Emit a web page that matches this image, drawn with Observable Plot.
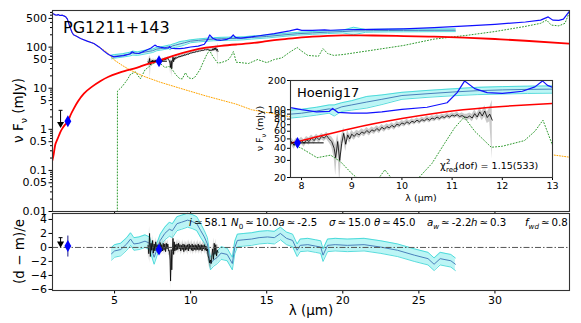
<!DOCTYPE html>
<html><head><meta charset="utf-8">
<script src="https://cdn.jsdelivr.net/npm/d3@7"></script>
<script src="https://cdn.jsdelivr.net/npm/@observablehq/plot@0.6"></script>
<style>
body{margin:0;background:#fff;}
#wrap{position:relative;width:581px;height:323px;overflow:hidden;background:#fff;}
#wrap svg{position:absolute;overflow:visible;}
</style></head><body><div id="wrap"></div>
<script>
// ---------------- data ----------------
// total model (blue)
const blueLam = [0.92,1.0,1.1,1.2,1.3,1.4,1.56,1.7,1.78,1.9,2.05,2.2,2.3,2.5,2.76,3.2,3.64,4.0,4.3,4.6,4.95,5.3,5.6,6.0,6.16,6.3,6.6,7.0,7.4,7.65,7.78,8.0,8.3,8.55,8.62,8.72,9.0,9.3,9.6,10.0,10.5,10.9,11.1,11.25,11.45,11.7,12.0,12.4,12.65,12.8,12.9,13.0,13.3,14.0,15.5,16.5,17.0,17.3,18.0,18.8,19.2,20,22,24,26,28.2,30,32,33,33.5,33.8,34.2,34.5,34.9];
const blueVal = [660,640,610,600,620,590,600,570,550,480,320,230,200,185,163,140,123,100,80,66,58,60,62,68,77,72,70,82,95,112,105,100,95,96,103,94,92,92,95,101,106,118,150,198,165,150,147,155,172,198,178,170,165,178,214,250,275,255,255,262,258,265,270,280,300,330,360,410,455,545,455,450,480,750];
// stellar / accretion disk component (orange dotted)
const orangeLam = [0.92,1.0,1.1,1.2,1.3,1.4,1.56,1.7,1.78,1.9,2.05,2.2,2.3,2.5,2.76,3.2,3.64,4.0,4.5,5.0,5.5,6.0,6.5,7.0,8.0,9.5,11,13,14,16,18,20,22,25,28,31,34.9];
const orangeVal = [660,640,610,600,620,590,600,570,550,480,320,230,200,185,163,140,123,100,75,48,36,28,23,19,14,9.5,6.5,4.1,3.0,2.2,1.6,1.15,0.88,0.62,0.45,0.33,0.21];
// fitted smooth component (red)
const redLam = [0.9,1.0,1.1,1.23,1.4,1.56,1.75,1.93,2.1,2.32,2.6,2.98,3.5,4.08,4.6,5.18,5.7,6.27,6.8,7.37,8.0,9.0,10,11,12,13,14,15,16,17,18,19,20,21,22,24,26,28,30,32,34.9];
const redVal = [0.17,0.25,0.42,0.56,0.8,1.04,1.3,1.57,2.2,3.2,4.8,7.4,10.8,15,19,23,26.5,30,35,41,48,64,81,97,108,116,125,140,155,168,180,188,193,194,192,186,180,170,158,143,122];
// star-forming component (green dotted)
const greenLam = [5.18,5.19,5.5,5.83,6.05,6.38,6.55,6.7,7.0,7.37,7.78,8.0,8.31,8.58,8.78,9.0,9.15,9.3,9.45,9.66,9.85,10.1,10.3,10.6,10.85,11.05,11.24,11.45,11.78,12.0,12.44,12.65,12.81,13.0,13.3,13.8,14.4,15.0,15.5,16.0,16.5,17.0,17.3,17.7,18.4,18.7,19.0,19.4,20,22,24,26,28.2,30,32,33,33.4,33.7,34.2,34.6,34.9];
const greenVal = [0.005,8.5,11,16,22,25,20,17,28,36,45,40,32,34,29,22,19,17,17,24,18,17,19,28,45,65,84,60,41,42,48,60,78,43,42,40,50,42,50,55,75,98,80,63,60,92,70,63,66,85,110,157,195,240,320,380,455,344,330,380,720];
// model band (cyan)
const bandLam = [4.8,5.0,5.5,6.0,6.2,6.5,7.0,7.5,7.78,8.0,8.3,8.55,8.65,8.8,9.0,9.3,9.6,10.0,10.5,11.0,11.5,12.0,12.5,13.0,13.5,14,15,16,17,18,19,20,20.7,21.5,22,23,24,25,26,27.4];
const bandLo  = [52,54,57,61,64,63,68,74,82,84,88,92,86,96,99,104,113,128,134,139,143,145,147,148,151,157,167,181,196,205,214,222,200,230,232,235,236,237,238,239];
const bandMed = [58,60,63,68,72,70,76,82,90,92,97,102,100,107,112,120,128,140,146,152,157,160,162,163,166,172,182,197,212,222,232,240,248,250,252,254,255,256,257,258];
const bandHi  = [64,66,69,75,80,77,84,90,99,101,106,112,112,118,124,137,142,151,158,164,170,173,175,176,179,186,197,213,229,240,250,259,305,270,272,274,275,276,277,278];
// Spitzer spectrum (black) and its error (grey)
const specLam = [7.20,7.25,7.30,7.35,7.40,7.45,7.50,7.55,7.60,7.65,7.70,7.75,7.80,7.85,7.90,7.95,8.00,8.05,8.10,8.15,8.20,8.25,8.30,8.35,8.40,8.45,8.50,8.55,8.60,8.65,8.68,8.72,8.76,8.80,8.84,8.88,8.92,8.96,9.00,9.05,9.10,9.15,9.20,9.25,9.30,9.35,9.40,9.45,9.50,9.55,9.60,9.65,9.70,9.75,9.80,9.85,9.90,9.95,10.00,10.05,10.10,10.15,10.20,10.25,10.30,10.35,10.40,10.45,10.50,10.55,10.60,10.65,10.70,10.75,10.80,10.85,10.90,10.95,11.00,11.05,11.10,11.15,11.20,11.25,11.30,11.35,11.40,11.45,11.50,11.55,11.60,11.65,11.70,11.75,11.80];
const specVal = [44,40,53,37,46,42,48,41,47,43,48,44,47,43,47,45,48,45,49,47,51,48,52,49,53,51,54,50,47,40,32,47,30,45,57,44,55,50,56,53,57,55,59,57,61,58,62,60,64,61,66,63,67,65,69,66,71,69,73,71,75,72,76,74,78,75,79,77,81,78,82,80,84,81,85,83,87,84,88,86,89,85,87,84,83,86,82,91,84,95,86,97,83,90,78];
const specErr = [8,7,10,20,6,6,5,5,5,5,4.5,4.5,4,4,4,4,4,4,4,4,4,4,4,4,4,4,4.5,4.5,5.5,8,11,9,12,9,8,7,6,5,5,4.5,4.5,4.5,4.5,4.5,4.5,4.5,4.5,4.5,4.5,4.5,4.5,4.5,4.5,4.5,4.5,4.5,4.5,4.5,4.5,4.5,4.5,4.5,4.5,4.5,4.5,4.5,4.5,4.5,5,5,5,5,5,5,5,5,5,5,5,5,5.5,5.5,6,6,6.5,6.5,7,8,7,10,9,13,11,15,47];
// residuals: spectrum (black) and model band (cyan)
const resSpec = [0.3,-0.9,2.0,-1.3,0.6,-0.4,1.0,-0.8,0.5,-0.5,0.8,-0.3,0.4,-0.7,0.3,-0.2,0.7,-0.6,0.4,-0.5,0.6,-0.4,0.5,-0.6,0.6,-0.2,0.5,-0.5,-0.4,-1.8,-4.8,-0.3,-3.2,-0.6,1.3,-1.0,0.8,-0.5,0.4,-0.4,0.5,-0.3,0.6,-0.2,0.4,-0.5,0.3,-0.3,0.5,-0.6,0.4,-0.4,0.3,-0.3,0.4,-0.5,0.5,-0.2,0.3,-0.4,0.5,-0.5,0.3,-0.3,0.4,-0.4,0.3,-0.3,0.5,-0.4,0.3,-0.3,0.4,-0.5,0.3,-0.2,0.4,-0.4,0.2,-0.5,-0.2,-1.2,-1.6,-2.2,-1.8,-2.3,-1.2,-0.2,-1.7,0.6,-1.0,0.4,-1.2,-0.4,-0.7];
const resSpecErr = [1.0,1.0,1.0,1.0,0.9,0.7,0.7,0.7,0.6,0.6,0.6,0.6,0.6,0.6,0.6,0.6,0.6,0.6,0.6,0.6,0.6,0.6,0.6,0.6,0.6,0.6,0.6,0.6,0.7,1.0,1.2,1.0,1.2,1.0,0.9,0.8,0.7,0.6,0.6,0.6,0.6,0.6,0.6,0.6,0.6,0.6,0.6,0.6,0.6,0.6,0.6,0.6,0.6,0.6,0.6,0.6,0.6,0.6,0.6,0.6,0.6,0.6,0.6,0.6,0.6,0.6,0.6,0.6,0.6,0.6,0.6,0.6,0.6,0.6,0.6,0.6,0.6,0.6,0.6,0.6,0.7,0.7,0.8,0.8,0.8,0.8,0.8,0.8,0.8,0.8,0.8,0.8,0.9,0.9,1.0];
const resLam = [4.8,5.0,5.4,5.8,6.05,6.27,6.6,7.0,7.3,7.6,7.8,8.0,8.3,8.6,8.8,9.1,9.4,9.8,10.1,10.4,10.66,10.9,11.1,11.3,11.5,11.76,12.0,12.4,12.74,12.9,13.07,13.5,14,14.5,15.05,15.5,15.9,16.3,16.7,17.0,17.2,17.7,18.2,18.55,18.7,19.0,19.5,20.3,21.4,22.5,23.6,24.7,25.6,26.0,26.4,27.1,27.4];
const resMed = [-0.9,-0.5,-0.3,0.5,1.2,0.5,0.6,0.9,0.6,-1.4,-0.2,1.0,2.0,2.6,2.4,3.4,3.6,3.9,3.7,3.4,2.4,1.5,0.5,-2.3,-1.8,-1.4,-0.8,-1.0,-2.3,0.0,1.0,1.1,1.2,1.4,1.5,1.4,2.0,1.3,1.0,-0.4,0.3,0.4,0.2,0.05,-1.1,0.3,0.4,0.3,0.4,0.05,-0.4,-1.1,-1.6,-2.4,-1.6,-1.9,-2.4];
const resErr = [0.9,0.9,0.9,0.9,0.9,0.9,0.9,0.9,0.9,1.0,0.9,0.9,0.9,1.0,1.0,1.0,1.0,1.0,1.0,1.0,1.0,0.9,0.9,0.9,0.9,0.9,0.9,0.9,0.9,0.9,0.9,0.9,0.9,0.9,0.9,0.9,0.9,0.9,0.9,0.9,0.9,0.9,0.9,0.9,0.9,0.9,0.9,0.9,0.9,0.9,0.9,0.9,0.9,0.9,0.9,0.9,0.9];
// photometry
const photLam = [1.93, 7.92];
const photVal = [1.57, 45.5];
const photXLo = [1.93, 7.40];
const photXHi = [1.93, 8.44];
const photRes = [0.2, -0.3];
const photResErr = [1.5, 0];
const ulLam = [1.45];
const ulTop = [2.9];
const ulTip = [1.14];
const ulResTop = [1.4];
const ulResTip = [0.3];
// ticks
const xTicks = [5,10,15,20,25,30];
const yMajor = [0.01,0.05,0.1,0.5,1,5,10,50,100,500];
const yMinor = [0.02,0.03,0.04,0.06,0.07,0.08,0.09,0.2,0.3,0.4,0.6,0.7,0.8,0.9,2,3,4,6,7,8,9,20,30,40,60,70,80,90,200,300,400,600,700];
const resTicks = [-6,-4,-2,0,2,4];
const insetXTicks = [8,9,10,11,12,13];
const insetYTicks = [20,30,40,50,60,70,80,90,100,200];

// ---------------- tables built from the arrays ----------------
const T = (xs, ys) => xs.map((x,i)=>({x, y: ys[i]}));
const blue = T(blueLam, blueVal), orange = T(orangeLam, orangeVal), red = T(redLam, redVal), green = T(greenLam, greenVal);
const band = bandLam.map((x,i)=>({x, lo: bandLo[i], med: bandMed[i], hi: bandHi[i]}));
const spec = specLam.map((x,i)=>({x, y: specVal[i], lo: specVal[i]-specErr[i], hi: specVal[i]+specErr[i]}));
const rspec = specLam.map((x,i)=>({x, y: resSpec[i], lo: resSpec[i]-resSpecErr[i], hi: resSpec[i]+resSpecErr[i]}));
const rband = resLam.map((x,i)=>({x, med: resMed[i], lo: resMed[i]-resErr[i], hi: resMed[i]+resErr[i]}));
const phot = photLam.map((x,i)=>({x, y: photVal[i], x1: photXLo[i], x2: photXHi[i], r: photRes[i], r1: photRes[i]-photResErr[i], r2: photRes[i]+photResErr[i]}));
const ul = ulLam.map((x,i)=>({x, top: ulTop[i], tip: ulTip[i], rtop: ulResTop[i], rtip: ulResTip[i]}));

const FONT = "DejaVu Sans";
const CYANF = "#22dddd", CYANE = "#2fd3d3", MEDC = "#4a80bb";
const frame = Plot.frame({stroke: "#333", strokeWidth: 1.1});

function bandMarks(clip) {
  return [
    Plot.areaY(band, {x: "x", y1: "lo", y2: "hi", fill: CYANF, fillOpacity: 0.3, clip}),
    Plot.line(band, {x: "x", y: "lo", stroke: CYANE, strokeWidth: 0.8, clip}),
    Plot.line(band, {x: "x", y: "hi", stroke: CYANE, strokeWidth: 0.8, clip}),
    Plot.line(band, {x: "x", y: "med", stroke: MEDC, strokeWidth: 1, clip}),
  ];
}
function specMarks(clip) {
  return [
    Plot.areaY(spec, {x: "x", y1: "lo", y2: "hi", fill: "#8a8a8a", fillOpacity: 0.45, clip}),
  ];
}
function compMarks(clip, wBlue, wRed) {
  return [
    Plot.line(green, {x: "x", y: "y", stroke: "#2e9a2e", strokeWidth: 1, strokeDasharray: "1,2", clip}),
    Plot.line(orange, {x: "x", y: "y", stroke: "#ffa500", strokeWidth: 1, strokeDasharray: "1,1.6", clip}),
    Plot.line(spec, {x: "x", y: "y", stroke: "black", strokeWidth: 0.8, clip}),
    Plot.line(red, {x: "x", y: "y", stroke: "red", strokeWidth: wRed, curve: "natural", clip}),
    Plot.line(blue, {x: "x", y: "y", stroke: "#1010ff", strokeWidth: wBlue, clip}),
  ];
}
// y tick labels drawn as text marks positioned by the y scale
function yLabels(values, size, dx) {
  return Plot.text(values, {y: d => d, text: d => String(d).replace("-", "\u2212"), frameAnchor: "left", textAnchor: "end", dx, fontSize: size, fill: "black"});
}

// ---------------- main panel ----------------
const main = Plot.plot({
  width: 581, height: 215, marginLeft: 52, marginRight: 12, marginTop: 10, marginBottom: 4,
  style: {background: "transparent", fontFamily: FONT, fontSize: "11px", color: "black"},
  x: {domain: [0.92, 34.9]},
  y: {type: "log", domain: [0.01, 780]},
  marks: [
    ...bandMarks(true),
    ...specMarks(true),
    ...compMarks(true, 1.2, 1.8),
    Plot.link(phot, {x1: "x1", x2: "x2", y1: "y", y2: "y", stroke: "black", strokeWidth: 1, clip: true}),
    Plot.link(ul, {x1: "x", x2: "x", y1: "top", y2: "tip", stroke: "black", strokeWidth: 1}),
    Plot.link(ul, {x1: d => d.x - 0.13, x2: d => d.x + 0.13, y1: "top", y2: "top", stroke: "black", strokeWidth: 1}),
    Plot.dot(ul, {x: "x", y: d => d.tip * 1.18, symbol: "triangle", rotate: 180, r: 2.6, fill: "black", stroke: "none"}),
    Plot.dot(phot, {x: "x", y: "y", symbol: "diamond", r: 3.6, fill: "blue", stroke: "none"}),
    Plot.axisY({ticks: yMajor, tickFormat: () => "", tickSize: 3.5, label: null}),
    Plot.axisY({ticks: yMinor, tickFormat: () => "", tickSize: 2, label: null}),
    yLabels(yMajor, 11, -5.5),
    Plot.axisX({ticks: xTicks, tickFormat: () => "", tickSize: 3, label: null}),
    frame
  ]
});
main.style.left = "0px"; main.style.top = "0px";

// ---------------- inset ----------------
const inset = Plot.plot({
  width: 306, height: 125, marginLeft: 40, marginRight: 4, marginTop: 2, marginBottom: 26,
  style: {background: "transparent", fontFamily: FONT, fontSize: "9px", color: "black"},
  x: {domain: [7.78, 13]},
  y: {type: "log", domain: [20, 200]},
  marks: [
    Plot.frame({fill: "white"}),
    ...bandMarks(true),
    ...specMarks(true),
    ...compMarks(true, 1.2, 1.5),
    Plot.link(phot, {x1: "x1", x2: "x2", y1: "y", y2: "y", stroke: "black", strokeWidth: 1, clip: true}),
    Plot.dot(phot, {x: "x", y: "y", symbol: "diamond", r: 3.6, fill: "blue", stroke: "none", clip: true}),
    Plot.axisY({ticks: insetYTicks, tickFormat: () => "", tickSize: 3, label: null}),
    yLabels(insetYTicks, 9.5, -4.5),
    Plot.axisX({ticks: insetXTicks, tickFormat: d => String(d), tickSize: 3, tickPadding: 2, label: null, fontSize: 9.5}),
    frame
  ]
});
inset.style.left = "250px"; inset.style.top = "78px";

// ---------------- residual panel ----------------
const resid = Plot.plot({
  width: 581, height: 112, marginLeft: 52, marginRight: 12, marginTop: 2, marginBottom: 33,
  style: {background: "transparent", fontFamily: FONT, fontSize: "11px", color: "black"},
  x: {domain: [0.92, 34.9]},
  y: {domain: [-6.15, 4.85]},
  marks: [
    Plot.areaY(rband, {x: "x", y1: "lo", y2: "hi", fill: CYANF, fillOpacity: 0.3}),
    Plot.line(rband, {x: "x", y: "lo", stroke: CYANE, strokeWidth: 0.8}),
    Plot.line(rband, {x: "x", y: "hi", stroke: CYANE, strokeWidth: 0.8}),
    Plot.line(rband, {x: "x", y: "med", stroke: MEDC, strokeWidth: 1}),
    Plot.areaY(rspec, {x: "x", y1: "lo", y2: "hi", fill: "#8a8a8a", fillOpacity: 0.45, clip: true}),
    Plot.line(rspec, {x: "x", y: "y", stroke: "black", strokeWidth: 0.8, clip: true}),
    Plot.ruleY([0], {stroke: "#555", strokeWidth: 1, strokeDasharray: "6,2,1.5,2"}),
    Plot.link(phot, {x1: "x", x2: "x", y1: "r1", y2: "r2", stroke: "#1a1a8a", strokeWidth: 1}),
    Plot.link(ul, {x1: "x", x2: "x", y1: "rtop", y2: "rtip", stroke: "black", strokeWidth: 1}),
    Plot.link(ul, {x1: d => d.x - 0.13, x2: d => d.x + 0.13, y1: "rtop", y2: "rtop", stroke: "black", strokeWidth: 1}),
    Plot.dot(ul, {x: "x", y: d => d.rtip + 0.25, symbol: "triangle", rotate: 180, r: 2.6, fill: "black", stroke: "none"}),
    Plot.dot(phot, {x: "x", y: "r", symbol: "diamond", r: 3.6, fill: "blue", stroke: "none"}),
    Plot.axisY({ticks: resTicks, tickFormat: () => "", tickSize: 3.5, label: null}),
    yLabels(resTicks, 11, -5.5),
    Plot.axisX({ticks: xTicks, tickFormat: d => String(d), tickSize: 3.5, tickPadding: 2, label: null, fontSize: 11}),
    frame
  ]
});
resid.style.left = "0px"; resid.style.top = "211px";

const wrap = document.getElementById("wrap");
wrap.appendChild(main);
wrap.appendChild(resid);
wrap.appendChild(inset);

// ---------------- text overlay ----------------
const ov = d3.select(wrap).append("svg").attr("width", 581).attr("height", 323)
  .style("left", "0px").style("top", "0px").style("pointer-events", "none");
function label(x, y, size, parts, anchor = "start", rotate = 0) {
  const t = ov.append("text").attr("x", x).attr("y", y).attr("font-size", size)
    .attr("font-family", FONT).attr("text-anchor", anchor).attr("fill", "black");
  if (rotate) t.attr("transform", `rotate(${rotate},${x},${y})`);
  let shift = 0;
  for (const p of parts) {
    const [s, o] = typeof p === "string" ? [p, {}] : p;
    const target = o.sub ? size * 0.28 : o.sup ? -size * 0.38 : 0;
    const ts = t.append("tspan").text(s).attr("dy", target - shift);
    shift = target;
    if (o.sub || o.sup) ts.attr("font-size", size * 0.7);
    if (o.it) ts.attr("font-style", "italic");
  }
  return t;
}
label(63, 33, 16, ["PG1211+143"]);
label(297, 97, 13, ["Hoenig17"]);
label(23, 110.5, 13.5, ["\u03bd F", ["\u03bd", {sub: true}], " (mJy)"], "middle", -90);
label(24, 251.5, 13.5, ["(d \u2212 m)/e"], "middle", -90);
label(311, 315, 13.5, ["\u03bb (\u03bcm)"], "middle");
label(263, 128.5, 9.5, ["\u03bd F", ["\u03bd", {sub: true}], " (mJy)"], "middle", -90);
label(421, 201, 9.5, ["\u03bb (\u03bcm)"], "middle");
// chi^2 annotation
label(440, 169, 10, ["\u03c7"]);
label(446, 164, 7, ["2"]);
label(446, 172, 7, ["red"]);
label(455, 169, 9.5, ["(dof) = 1.15(533)"]);
// fit parameters
const PS = 10.2, PY = 226, S = "\u2009\u2243\u2009";
label(189, PY, PS, [["i", {it: true}], S + "58.1"]);
label(231, PY, PS, [["N", {it: true}], ["0", {sub: true}], S + "10.0", ["a", {it: true}], S + "-2.5"]);
label(329, PY, PS, [["\u03c3", {it: true}], S + "15.0"]);
label(374, PY, PS, [["\u03b8", {it: true}], S + "45.0"]);
label(427, PY, PS, [["a", {it: true}], ["w", {sub: true, it: true}], S + "-2.2"]);
label(471, PY, PS, [["h", {it: true}], S + "0.3"]);
label(525, PY, PS, [["f", {it: true}], ["wd", {sub: true, it: true}], S + "0.8"]);
</script></body></html>
